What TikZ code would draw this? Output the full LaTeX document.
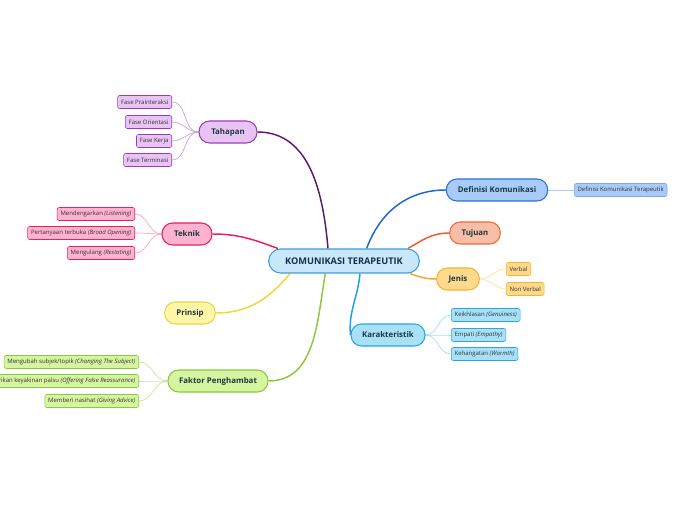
\documentclass[tikz,border=0pt]{standalone}
\usepackage{fontspec}
\setmainfont{Open Sans}
\definecolor{rootfill}{HTML}{C9E9FA}
\definecolor{rootline}{HTML}{3A9FDC}
\definecolor{rootink}{HTML}{15304A}
\definecolor{topicink}{HTML}{1B3A40}
\definecolor{subink}{HTML}{333333}
\definecolor{purplefill}{HTML}{E8C4F5}
\definecolor{purpleline}{HTML}{9B3DB0}
\definecolor{purplebranch}{HTML}{5B1A68}
\definecolor{purpletwig}{HTML}{C99ED3}
\definecolor{pinkfill}{HTML}{FFB3CE}
\definecolor{pinkline}{HTML}{E91E63}
\definecolor{pinktwig}{HTML}{F7A3C2}
\definecolor{yellowfill}{HTML}{FFF6A8}
\definecolor{yellowline}{HTML}{E8D44C}
\definecolor{yellowbranch}{HTML}{F0D832}
\definecolor{greenfill}{HTML}{D5F5A0}
\definecolor{greenline}{HTML}{8DC63F}
\definecolor{greentwig}{HTML}{C5E49C}
\definecolor{bluefill}{HTML}{A8CBFA}
\definecolor{blueline}{HTML}{2A6FD6}
\definecolor{bluebranch}{HTML}{1F66CC}
\definecolor{orangefill}{HTML}{F9BDA8}
\definecolor{orangeline}{HTML}{F0693C}
\definecolor{orangebranch}{HTML}{F05A28}
\definecolor{goldfill}{HTML}{FFD98C}
\definecolor{goldline}{HTML}{F3B430}
\definecolor{goldbranch}{HTML}{F5A623}
\definecolor{goldtwig}{HTML}{FFDF99}
\definecolor{cyanfill}{HTML}{A8E0F8}
\definecolor{cyanline}{HTML}{2BA6DE}
\definecolor{cyanbranch}{HTML}{1BA1E2}
\definecolor{cyantwig}{HTML}{9EDCF6}
\usetikzlibrary{positioning, calc, backgrounds}

\begin{document}
\begin{tikzpicture}[
    x=0.75pt, y=-0.75pt,
    root/.style={
        rectangle, draw=rootline, fill=rootfill, line width=0.8pt, rounded corners=9pt,
        minimum width=113pt, minimum height=18pt, text=rootink,
        font=\fontsize{6.9}{8}\selectfont\bfseries
    },
    topic/.style={
        rectangle, line width=0.8pt, rounded corners=8pt, minimum height=16.5pt,
        inner xsep=6pt, text=topicink, font=\fontsize{5.9}{7}\selectfont\bfseries
    },
    sub/.style={
        rectangle, line width=0.4pt, rounded corners=1.5pt, minimum height=9.75pt,
        inner xsep=2.5pt, inner ysep=1pt, text=subink, font=\fontsize{4.5}{5}\selectfont
    },
    branch/.style={line width=1.1pt},
    twig/.style={line width=0.5pt}
]
\useasboundingbox (0,0) rectangle (696,520);

% Central topic
\node[root] (root) at (344,261) {KOMUNIKASI TERAPEUTIK};

% Left side
\node[topic, draw=purpleline, fill=purplefill, minimum width=43.5pt] (tahapan) at (228,132) {Tahapan};
\node[topic, draw=pinkline, fill=pinkfill, minimum width=37.5pt] (teknik) at (187,234) {Teknik};
\node[topic, draw=yellowline, fill=yellowfill, minimum width=38pt] (prinsip) at (190,313) {Prinsip};
\node[topic, draw=greenline, fill=greenfill, minimum width=75pt] (faktor) at (218,381) {Faktor Penghambat};

% Right side
\node[topic, draw=blueline, fill=bluefill, minimum width=76pt] (definisi) at (497,190) {Definisi Komunikasi};
\node[topic, draw=orangeline, fill=orangefill, minimum width=38pt] (tujuan) at (475,233) {Tujuan};
\node[topic, draw=goldline, fill=goldfill, minimum width=32pt] (jenis) at (458,279) {Jenis};
\node[topic, draw=cyanline, fill=cyanfill, minimum width=55.5pt] (karakter) at (388,335) {Karakteristik};

% Tahapan
\node[sub, draw=purpleline, fill=purplefill, anchor=east] (fase1) at (172,102) {Fase Prainteraksi};
\node[sub, draw=purpleline, fill=purplefill, anchor=east] (fase2) at (172,122) {Fase Orientasi};
\node[sub, draw=purpleline, fill=purplefill, anchor=east] (fase3) at (172,141) {Fase Kerja};
\node[sub, draw=purpleline, fill=purplefill, anchor=east] (fase4) at (172,160) {Fase Terminasi};

% Teknik
\node[sub, draw=pinkline, fill=pinkfill, anchor=east] (teknik1) at (135,214) {Mendengarkan \textit{(Listening)}};
\node[sub, draw=pinkline, fill=pinkfill, anchor=east] (teknik2) at (135,233) {Pertanyaan terbuka \textit{(Broad Opening)}};
\node[sub, draw=pinkline, fill=pinkfill, anchor=east] (teknik3) at (135,253) {Mengulang \textit{(Restating)}};

% Faktor Penghambat
\node[sub, draw=greenline, fill=greenfill, anchor=east] (faktor1) at (139,362) {Mengubah subjek/topik \textit{(Changing The Subject)}};
\node[sub, draw=greenline, fill=greenfill, anchor=east] (faktor2) at (139,381) {Memberikan keyakinan palsu \textit{(Offering False Reassurance)}};
\node[sub, draw=greenline, fill=greenfill, anchor=east] (faktor3) at (139,401) {Memberi nasihat \textit{(Giving Advice)}};

% Definisi, Jenis, Karakteristik
\node[sub, draw=blueline!60, fill=bluefill, anchor=west] (definisi1) at (574,190) {Definisi Komunikasi Terapeutik};
\node[sub, draw=goldline, fill=goldfill, anchor=west] (jenis1) at (506,269) {Verbal};
\node[sub, draw=goldline, fill=goldfill, anchor=west] (jenis2) at (506,289) {Non Verbal};
\node[sub, draw=cyanline, fill=cyanfill, anchor=west] (karakter1) at (451,315) {Keikhlasan \textit{(Genuiness)}};
\node[sub, draw=cyanline, fill=cyanfill, anchor=west] (karakter2) at (451,335) {Empati \textit{(Empathy)}};
\node[sub, draw=cyanline, fill=cyanfill, anchor=west] (karakter3) at (451,354) {Kehangatan \textit{(Warmth)}};

\begin{scope}[on background layer]
% Branches
\draw[branch, purplebranch] ([xshift=-12pt]root.north) to[out=95, in=0] (tahapan.east);
\draw[branch, pinkline] ([xshift=-49.5pt]root.north) to[out=160, in=0] (teknik.east);
\draw[branch, yellowbranch] ([xshift=-40.5pt]root.south) to[out=-130, in=0] (prinsip.east);
\draw[branch, greenline] ([xshift=-14pt]root.south) to[out=-100, in=0] (faktor.east);
\draw[branch, bluebranch] ([xshift=17pt]root.north) to[out=70, in=180] (definisi.west);
\draw[branch, orangebranch] ([xshift=48pt]root.north) to[out=30, in=180] (tujuan.west);
\draw[branch, goldbranch] ([xshift=49.5pt]root.south) to[out=-20, in=180] (jenis.west);
\draw[branch, cyanbranch] ([xshift=12pt]root.south) to[out=-95, in=95] (karakter.west);

% Twigs
\foreach \c in {fase1,fase2,fase3,fase4}
    \draw[twig, purpletwig] (tahapan.west) to[out=180, in=0] (\c.east);
\foreach \c in {teknik1,teknik2,teknik3}
    \draw[twig, pinktwig] (teknik.west) to[out=180, in=0] (\c.east);
\foreach \c in {faktor1,faktor2,faktor3}
    \draw[twig, greentwig] (faktor.west) to[out=180, in=0] (\c.east);
\draw[twig, bluefill] (definisi.east) -- (definisi1.west);
\foreach \c in {jenis1,jenis2}
    \draw[twig, goldtwig] (jenis.east) to[out=0, in=180] (\c.west);
\foreach \c in {karakter1,karakter2,karakter3}
    \draw[twig, cyantwig] (karakter.east) to[out=0, in=180] (\c.west);
\end{scope}

\end{tikzpicture}
\end{document}
